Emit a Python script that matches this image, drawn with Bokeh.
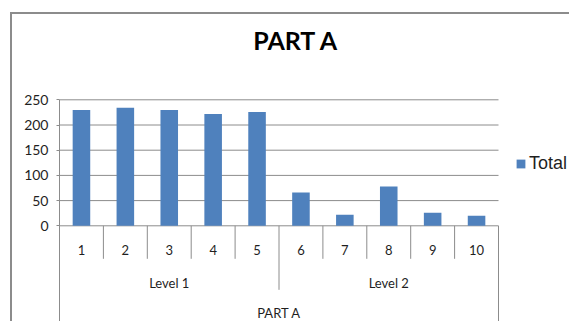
from bokeh.plotting import figure
from bokeh.models import Range1d, FixedTicker, ColumnDataSource, Legend, LegendItem
from bokeh.core.properties import value
from bokeh.embed import file_html
from bokeh.resources import INLINE

# ---------------- data ----------------
title_text = "PART A"
group_name = "PART A"
levels = ["Level 1"] * 5 + ["Level 2"] * 5
categories = ["1", "2", "3", "4", "5", "6", "7", "8", "9", "10"]
totals = [230, 234, 230, 222, 226, 66, 22, 78, 26, 20]
y_ticks = [0, 50, 100, 150, 200, 250]
series_name = "Total"

# ---------------- layout constants (pixels) ----------------
W, H = 559, 309              # canvas (placed at page x=12, y=14 inside the chart border)
LEFT = 47                    # y-axis panel width
CAT_PX = 43.9                # width of one category in pixels
PX_PER_UNIT = 126 / 250.0    # vertical pixels per value unit
ZERO_FROM_TOP = 211.3        # pixel row of the value 0 inside the canvas
TICK_PX = 33                 # category separator length
LEVEL_PX = 64                # level separator length
GRID = "#8c8c8c"
TEXT = "#1f1f1f"
BAR = "#4F81BD"

n = len(categories)
frame_w = W - LEFT
x_end = frame_w / CAT_PX
y_end = ZERO_FROM_TOP / PX_PER_UNIT
y_start = y_end - H / PX_PER_UNIT

p = figure(
    width=W, height=H, title=None,
    x_range=Range1d(0, x_end), y_range=Range1d(y_start, y_end),
    output_backend="svg", toolbar_location=None,
    x_axis_location=None,
    min_border_left=LEFT, min_border_right=0,
    min_border_top=0, min_border_bottom=0,
)
p.margin = (12, 0, 0, 10)
p.styles = {"border-top": "2px solid #8c8c8c", "border-left": "2px solid #8c8c8c"}
p.outline_line_color = None
p.background_fill_color = "white"
p.border_fill_color = "white"
for g in p.grid:
    g.visible = False

# y axis (its line continues down as the left edge of the category axis)
yax = p.yaxis[0]
yax.ticker = FixedTicker(ticks=y_ticks)
yax.bounds = (y_start, max(y_ticks))
yax.axis_line_color = GRID
yax.axis_line_width = 1
yax.major_tick_line_color = GRID
yax.major_tick_out = 3
yax.major_tick_in = 0
yax.minor_tick_line_color = None
yax.major_label_standoff = 8
yax.major_label_text_font = "Lato"
yax.major_label_text_font_size = "14px"
yax.major_label_text_color = TEXT

# horizontal gridlines across the category area
grid_src = ColumnDataSource(dict(y=y_ticks))
p.segment(x0=0, x1=n, y0="y", y1="y", source=grid_src, line_color=GRID, line_width=1)

# bars
centers = [i + 0.5 for i in range(n)]
src = ColumnDataSource(dict(x=centers, top=totals, cat=categories))
bars = p.vbar(x="x", top="top", width=0.4, source=src, fill_color=BAR, line_color=None)

# category axis separators
sep_x, sep_y1 = [], []
for i in range(n):
    sep_x.append(i)
    if i > 0 and levels[i] != levels[i - 1]:
        sep_y1.append(-LEVEL_PX / PX_PER_UNIT)
    else:
        sep_y1.append(-TICK_PX / PX_PER_UNIT)
sep_x.append(n)
sep_y1.append(y_start)
sep_src = ColumnDataSource(dict(x=sep_x, y1=sep_y1))
p.segment(x0="x", x1="x", y0=0, y1="y1", source=sep_src, line_color=GRID, line_width=1)

# category labels
p.text(x="x", y=0, text="cat", source=src, text_font=value("Lato"),
       text_font_size="13px", text_align="center", text_baseline="middle",
       y_offset=24, text_color=TEXT)

uniq_levels = []
for lv in levels:
    if lv not in uniq_levels:
        uniq_levels.append(lv)
lvl_x = []
for lv in uniq_levels:
    idx = [i for i, l in enumerate(levels) if l == lv]
    lvl_x.append((min(idx) + max(idx) + 1) / 2.0)
lvl_src = ColumnDataSource(dict(x=lvl_x, label=uniq_levels))
p.text(x="x", y=0, text="label", source=lvl_src, text_font=value("Lato"),
       text_font_size="13px", text_align="center", text_baseline="middle",
       y_offset=57, text_color=TEXT)

grp_src = ColumnDataSource(dict(x=[n / 2.0], label=[group_name]))
p.text(x="x", y=0, text="label", source=grp_src, text_font=value("Lato"),
       text_font_size="13px", text_align="center", text_baseline="middle",
       y_offset=87, text_color=TEXT)

# chart title
ttl_src = ColumnDataSource(dict(x=[n / 2.0], y=[max(y_ticks)], label=[title_text]))
p.text(x="x", y="y", text="label", source=ttl_src, text_font=value("Lato"),
       text_font_style="bold", text_font_size="25px", text_align="center",
       text_baseline="middle", x_offset=17, y_offset=-60, text_color="#000000")

# legend
legend = Legend(items=[LegendItem(label=series_name, renderers=[bars])],
                location=(456, 149.5), padding=0, margin=0, spacing=0,
                glyph_width=11, glyph_height=11, label_standoff=3,
                label_text_font="Liberation Sans", label_text_font_size="18px",
                label_text_color=TEXT,
                border_line_color=None, background_fill_alpha=0)
p.add_layout(legend, "center")

open("out.html", "w").write(file_html(p, INLINE))
